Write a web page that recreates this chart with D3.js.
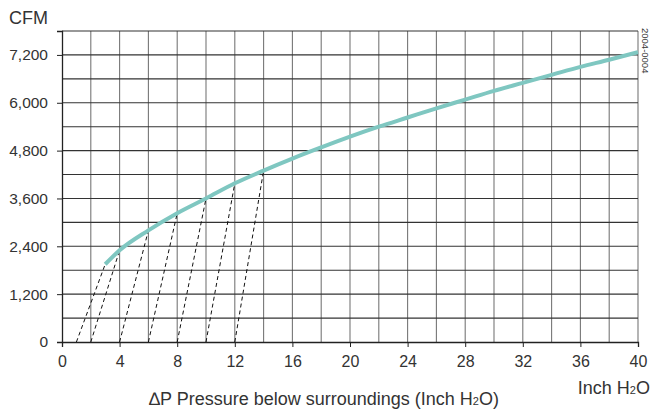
<!DOCTYPE html>
<html>
<head>
<meta charset="utf-8">
<script src="https://cdn.jsdelivr.net/npm/d3@7"></script>
<style>
  body { margin: 0; background: #fff; }
  svg { font-family: "Liberation Sans", Arial, sans-serif; }
</style>
</head>
<body>
<div id="chart"></div>
<script>
// Fan curve (pressure in inch H2O, airflow in CFM)
const pressure = [3, 4, 6, 8, 10, 12, 14, 16, 18, 20, 22, 24, 26, 28, 30, 32, 34, 36, 38, 40];
const cfm = [1950, 2300, 2800, 3230, 3600, 3980, 4300, 4600, 4880, 5150, 5400, 5630, 5860, 6080, 6300, 6500, 6700, 6900, 7080, 7270];

// dashed lines: start on the x axis, end on the curve
const dashStart = [1, 2, 4, 6, 8, 10, 12];
const dashEnd = [3, 4, 6, 8, 10, 12, 14];

const xTicks = [0, 4, 8, 12, 16, 20, 24, 28, 32, 36, 40];
const yTicks = [0, 1200, 2400, 3600, 4800, 6000, 7200];

const W = 652, H = 411;
const margin = { top: 31, right: 14, bottom: 69, left: 62 };
const width = W - margin.left - margin.right;
const height = H - margin.top - margin.bottom;

const svg = d3.select("#chart").append("svg")
  .attr("width", W).attr("height", H);

const g = svg.append("g").attr("transform", `translate(${margin.left},${margin.top})`);

const x = d3.scaleLinear().domain([0, 40]).range([0, width]);
const y = d3.scaleLinear().domain([0, 7800]).range([height, 0]);

// Grid
g.append("g")
  .selectAll("line")
  .data(d3.range(2, 41, 2))
  .join("line")
  .attr("x1", (d) => x(d)).attr("x2", (d) => x(d))
  .attr("y1", 0).attr("y2", height)
  .attr("stroke", "#777").attr("stroke-width", 1.1);

g.append("g")
  .selectAll("line")
  .data(d3.range(600, 7801, 600))
  .join("line")
  .attr("x1", 0).attr("x2", width)
  .attr("y1", (d) => y(d)).attr("y2", (d) => y(d))
  .attr("stroke", "#333").attr("stroke-width", 1.1);

// Axes
const xAxis = g.append("g")
  .attr("transform", `translate(0,${height})`)
  .call(d3.axisBottom(x).tickValues(xTicks).tickSize(5).tickPadding(9).tickFormat(d3.format("d")));
xAxis.select(".domain").attr("stroke", "#222").attr("stroke-width", 1.3);
xAxis.selectAll(".tick line").attr("stroke", "#222");
xAxis.selectAll("text").attr("fill", "#333").style("font-size", "16px")
  .style("font-family", "Liberation Sans, Arial, sans-serif");

const yAxis = g.append("g")
  .call(d3.axisLeft(y).tickValues(yTicks).tickSize(5).tickPadding(9).tickFormat(d3.format(",")));
yAxis.select(".domain").attr("stroke", "#222").attr("stroke-width", 1.3);
yAxis.selectAll(".tick line").attr("stroke", "#222");
yAxis.selectAll("text").attr("fill", "#333").style("font-size", "15.5px")
  .style("font-family", "Liberation Sans, Arial, sans-serif");

// Dashed helper lines
const cfmAt = (p) => cfm[pressure.indexOf(p)];
g.append("g")
  .selectAll("line")
  .data(dashStart.map((s, i) => ({ s, e: dashEnd[i] })))
  .join("line")
  .attr("x1", (d) => x(d.s)).attr("y1", y(0))
  .attr("x2", (d) => x(d.e)).attr("y2", (d) => y(cfmAt(d.e)))
  .attr("stroke", "#111").attr("stroke-width", 1)
  .attr("stroke-dasharray", "4,3");

// Fan curve
const line = d3.line()
  .x((d, i) => x(pressure[i]))
  .y((d) => y(d))
  .curve(d3.curveMonotoneX);

g.append("path")
  .datum(cfm)
  .attr("fill", "none")
  .attr("stroke", "#7fc7c1")
  .attr("stroke-width", 4)
  .attr("d", line);

// Labels
svg.append("text")
  .attr("x", 9).attr("y", 24)
  .attr("fill", "#333").style("font-size", "18px")
  .text("CFM");

const xTitle = svg.append("text")
  .attr("x", 324).attr("y", 405)
  .attr("text-anchor", "middle")
  .attr("fill", "#333").style("font-size", "18px");
xTitle.append("tspan").text("\u2206P Pressure below surroundings (Inch H");
xTitle.append("tspan").style("font-size", "11px").text("2");
xTitle.append("tspan").text("O)");

const unit = svg.append("text")
  .attr("x", 650).attr("y", 394)
  .attr("text-anchor", "end")
  .attr("fill", "#333").style("font-size", "18px");
unit.append("tspan").text("Inch H");
unit.append("tspan").style("font-size", "11px").text("2");
unit.append("tspan").text("O");

svg.append("text")
  .attr("transform", "translate(642,28) rotate(90)")
  .attr("fill", "#333").style("font-size", "9.5px")
  .text("2004-0004");
</script>
</body>
</html>
